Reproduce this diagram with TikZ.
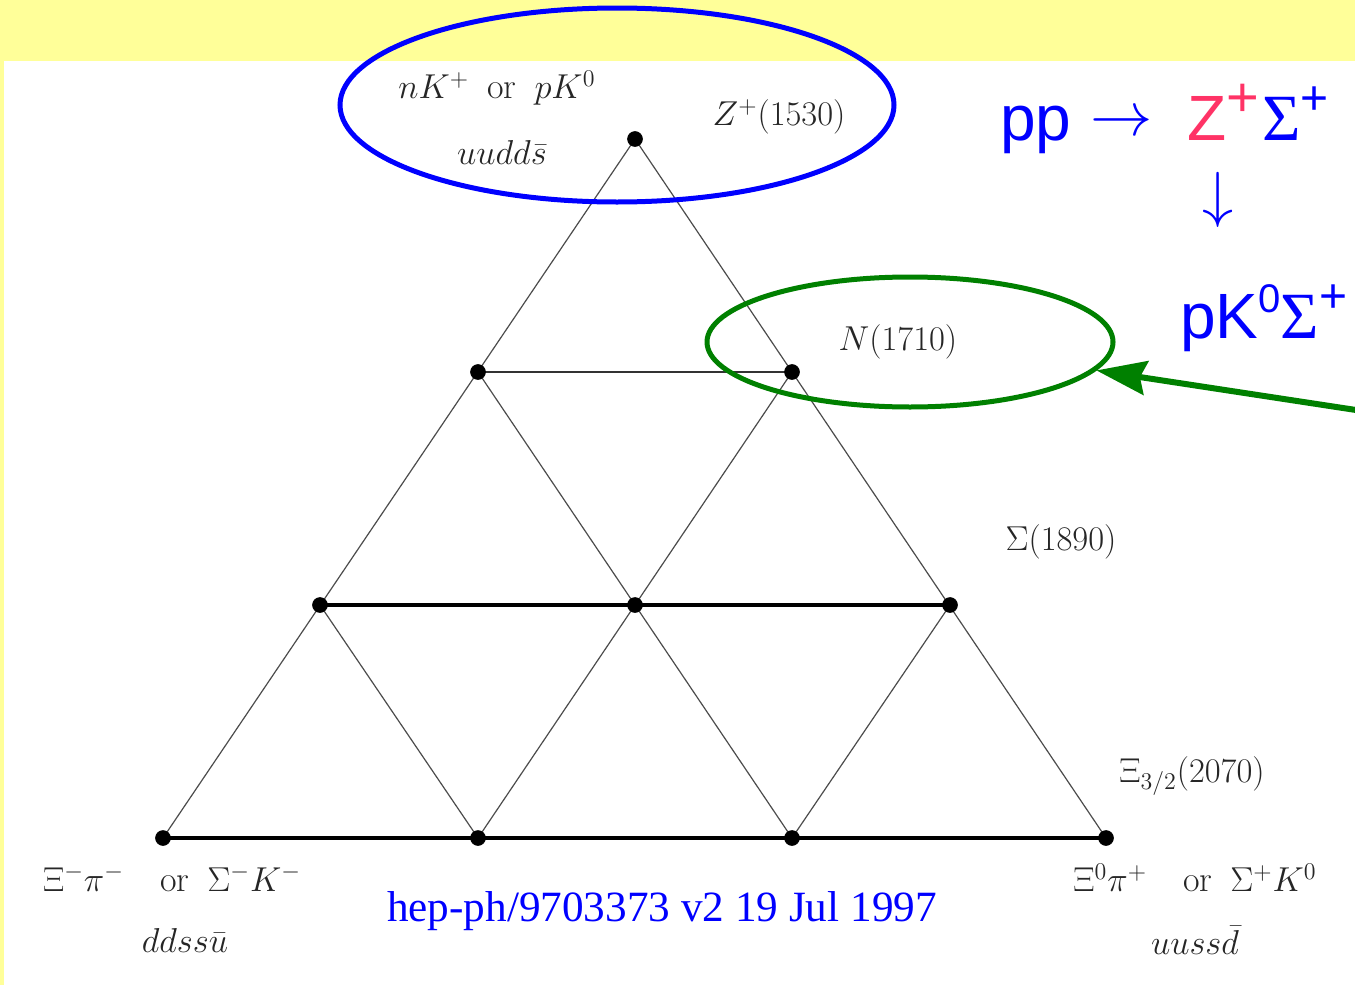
\documentclass[tikz,border=0pt]{standalone}
\usepackage{fontspec}
\usetikzlibrary{shapes.geometric,arrows.meta}
\newfontfamily\arialfont{Liberation Sans}
\newfontfamily\timesfont{Liberation Serif}
\definecolor{bgyellow}{RGB}{255,255,153}
\definecolor{zred}{RGB}{255,51,102}
\definecolor{markgreen}{RGB}{0,128,0}

\begin{document}
\begin{tikzpicture}[x=0.5pt, y=-0.5pt,
  side/.style={black!70, line width=0.6pt},
  rung/.style={black, line width=2pt},
  ring/.style={draw, ellipse, line width=2.5pt, inner sep=0pt},
  lbl/.style={text=black!85, font=\fontsize{18}{20}\selectfont},
  hint/.style={text=blue, font=\arialfont\fontsize{32}{38}\selectfont, inner sep=0pt, anchor=base west}]

  \useasboundingbox (0,0) rectangle (1355,985);
  \fill[bgyellow] (0,0) rectangle (1355,985);
  \fill[white] (4,61) rectangle (1355,985);

  \coordinate (A)  at (635,139);
  \coordinate (B1) at (478,372);
  \coordinate (B2) at (792,372);
  \coordinate (C1) at (320,605);
  \coordinate (C2) at (635,605);
  \coordinate (C3) at (950,605);
  \coordinate (D1) at (163,838);
  \coordinate (D2) at (478,838);
  \coordinate (D3) at (792,838);
  \coordinate (D4) at (1106,838);

  % Sides and diagonals
  \draw[side] (D1) -- (A) -- (D4);
  \draw[side] (B1) -- (D3);
  \draw[side] (B2) -- (D2);
  \draw[side] (C1) -- (D2);
  \draw[side] (C3) -- (D3);

  % Rows
  \draw[rung, line width=1pt, black!80] (B1) -- (B2);
  \draw[rung] (C1) -- (C3);
  \draw[rung] (D1) -- (D4);

  \foreach \p in {A,B1,B2,C1,C2,C3,D1,D2,D3,D4}
    \filldraw[black] (\p) circle (3.7pt);

  % States
  \node[lbl] (zdecay) at (497,88)  {$nK^+$\enspace or\enspace $pK^0$};
  \node[lbl] (zquark) at (502,152) {$uudd\bar s$};
  \node[lbl] (zname)  at (779,117) {$Z^+(1530)$};
  \node[lbl] (nname)  at (898,342) {$N(1710)$};
  \node[lbl] (sname)  at (1061,542) {$\Sigma(1890)$};
  \node[lbl] (xname)  at (1192,776) {$\Xi_{3/2}(2070)$};
  \node[lbl] (ldecay) at (172,878) {$\Xi^-\pi^-$\quad or\enspace $\Sigma^-K^-$};
  \node[lbl] (lquark) at (185,940) {$ddss\bar u$};
  \node[lbl] (rdecay) at (1195,878) {$\Xi^0\pi^+$\quad or\enspace $\Sigma^+K^0$};
  \node[lbl] (rquark) at (1195,940) {$uuss\bar d$};

  % Marks
  \node[ring, blue, minimum width=277pt, minimum height=97pt] (ringZ) at (617,105) {};
  \node[ring, markgreen, minimum width=203pt, minimum height=65pt] (ringN) at (910,342) {};
  \coordinate (tail) at (1356,410);
  \draw[markgreen, line width=3pt, -{Stealth[length=25pt, width=17pt, inset=3pt]}] (tail) -- (ringN);

  % Reaction
  \node[hint] (pp) at (1000,140) {pp};
  \node[text=blue, font=\fontsize{20}{24}\selectfont] (to) at (1122,124) {\scalebox{1.5}{$\rightarrow$}};
  \node[hint, text=zred] (zp) at (1187,140) {Z\raisebox{12pt}{\fontsize{28}{30}\selectfont +}};
  \node[hint] (sp) at (1262,140) {{\timesfont\fontsize{33}{38}\selectfont\char"03A3}\raisebox{13pt}{\fontsize{24}{26}\selectfont +}};
  \node[text=blue, font=\fontsize{20}{24}\selectfont] (down) at (1218,200) {\scalebox{1.5}{$\downarrow$}};
  \node[hint] (prod) at (1180,338) {pK\raisebox{13pt}{\fontsize{20}{24}\selectfont 0}{\timesfont\fontsize{33}{38}\selectfont\char"03A3}\raisebox{13pt}{\fontsize{24}{26}\selectfont +}};

  \node[text=blue, font=\timesfont\fontsize{21.6}{26}\selectfont, anchor=base] (stamp) at (662,921) {hep-ph/9703373 v2 19 Jul 1997};

\end{tikzpicture}
\end{document}
